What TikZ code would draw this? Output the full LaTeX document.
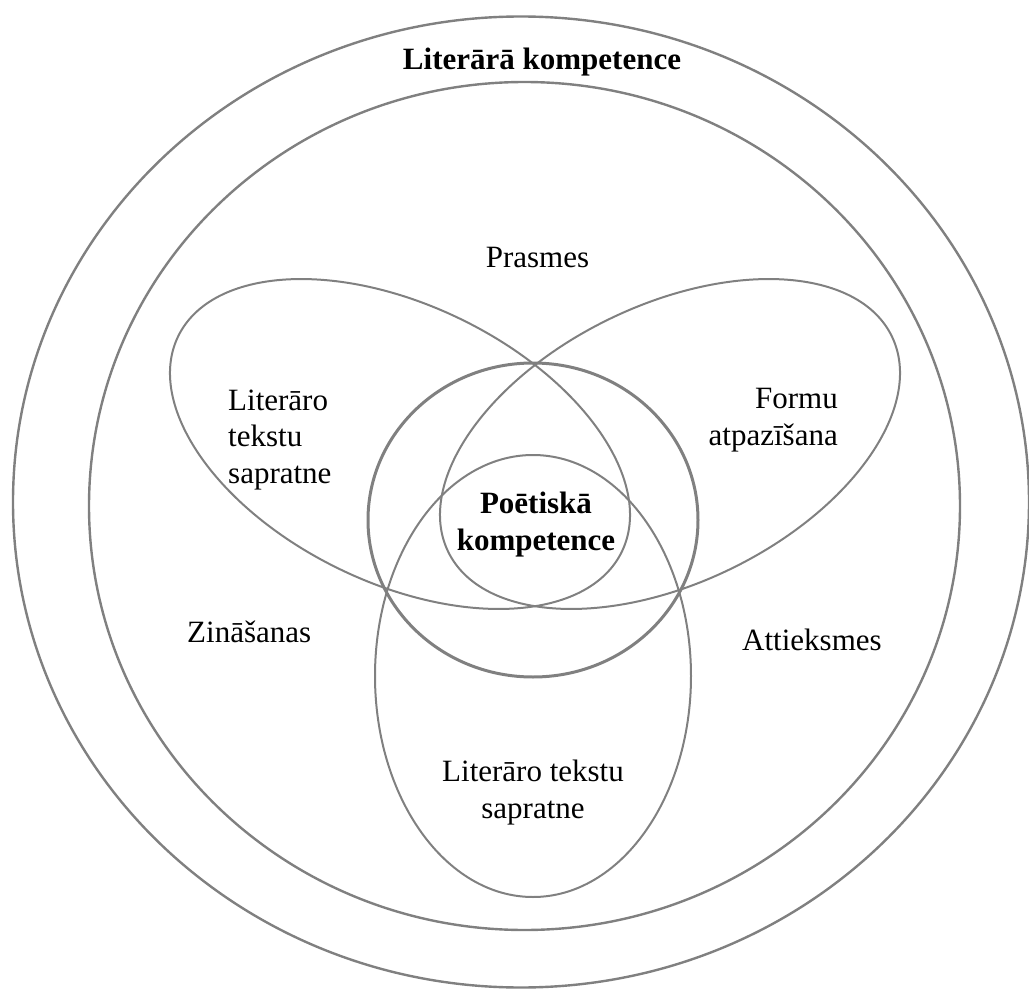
\documentclass[tikz,border=0pt]{standalone}
\usepackage{fontspec}
\setmainfont{Liberation Serif}
\definecolor{linegray}{RGB}{128,128,128}
\begin{document}
\begin{tikzpicture}[x=1pt,y=-1pt,
  ring/.style={draw=linegray, line width=2.4pt},
  core/.style={draw=linegray, line width=3pt},
  petal/.style={draw=linegray, line width=2pt},
  lbl/.style={font=\fontsize{31}{36.5}\selectfont, inner sep=0pt},
  boldlbl/.style={font=\fontsize{31}{36.5}\selectfont\bfseries, inner sep=0pt}]
\useasboundingbox (0,0) rectangle (1029,990);

% outer rings
\draw[ring] (521,502) ellipse [x radius=508, y radius=485.5];
\draw[ring] (524.5,506) ellipse [x radius=435.5, y radius=424];

% three overlapping petals; their common part frames the centre
\draw[petal, rotate around={-25.9:(400,444)}] (400,444) ellipse [x radius=246.6, y radius=138.9];
\draw[petal, rotate around={25.9:(670,444)}] (670,444) ellipse [x radius=246.6, y radius=138.9];
\draw[petal] (533,676) ellipse [x radius=158, y radius=221];

% central circle
\draw[core] (533,520) ellipse [x radius=165, y radius=157];

% labels (multi-line nodes sit on the baseline of their last line)
\node[boldlbl, anchor=base] (title) at (542,70) {Literārā kompetence};
\node[lbl, anchor=base] (prasmes) at (537.5,267) {Prasmes};
\node[lbl, anchor=base west, align=left] (ltsleft) at (228,483) {Literāro\\tekstu\\sapratne};
\node[lbl, anchor=base east, align=right] (formu) at (838,445) {Formu\\atpazīšana};
\node[boldlbl, anchor=base, align=center] (poet) at (536,550) {Poētiskā\\kompetence};
\node[lbl, anchor=base west] (zin) at (187,642) {Zināšanas};
\node[lbl, anchor=base west] (att) at (742,650) {Attieksmes};
\node[lbl, anchor=base, align=center] (ltsbottom) at (533,818) {Literāro tekstu\\sapratne};
\end{tikzpicture}
\end{document}
